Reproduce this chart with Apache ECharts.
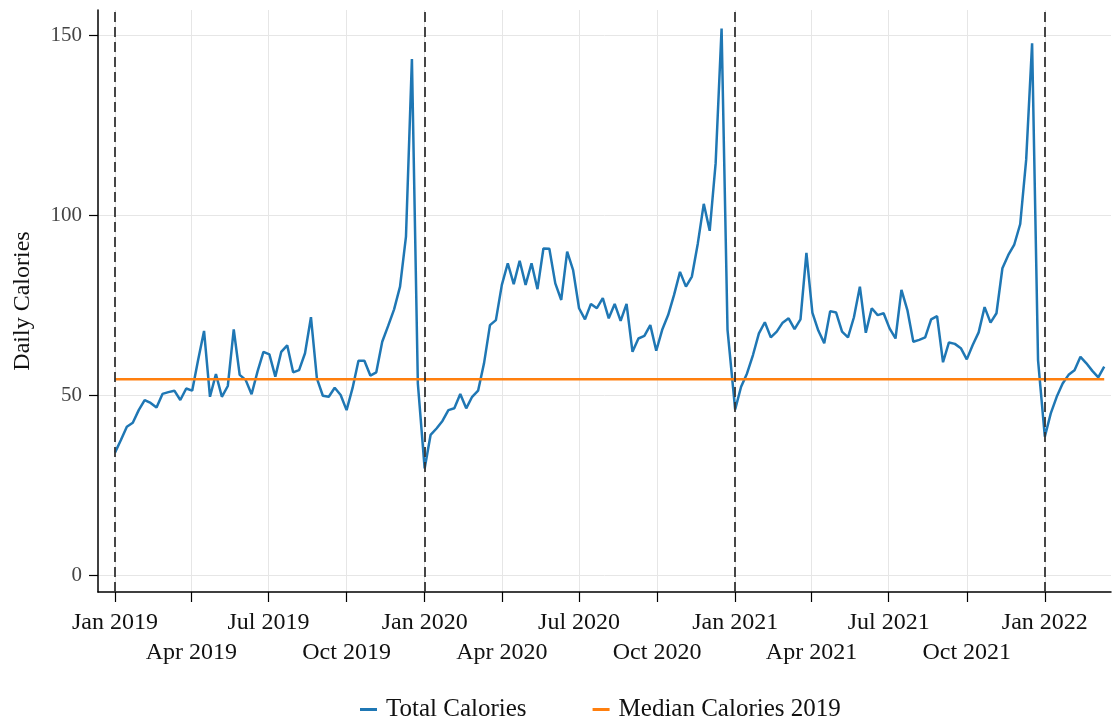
<!DOCTYPE html>
<html><head><meta charset="utf-8">
<script src="https://cdn.jsdelivr.net/npm/echarts@6/dist/echarts.min.js"></script>
<style>html,body{margin:0;padding:0;background:#fff}#chart{width:1113px;height:720px}</style>
</head><body><div id="chart"></div>
<script>
// Weekly values (Stata-style weeks: week 1 starts Jan 1, 52 weeks per year)
const cal2019 = [34.0, 37.5, 41.2, 42.3, 45.8, 48.6, 47.8, 46.5, 50.3, 50.8,
  51.2, 48.6, 51.8, 51.2, 59.7, 67.8, 49.5, 55.8, 49.5, 52.5,
  68.2, 55.6, 54.2, 50.2, 56.5, 62.0, 61.3, 55.1, 62.0, 63.8,
  56.3, 56.9, 61.6, 71.6, 54.6, 49.8, 49.5, 52.0, 50.0, 45.8,
  51.9, 59.5, 59.5, 55.4, 56.3, 64.8, 69.2, 73.8, 80.1, 94.0,
  143.3, 53.2];
const cal2020 = [29.6, 38.9, 40.7, 42.8, 45.8, 46.3, 50.3, 46.3, 49.5, 51.2,
  58.8, 69.4, 70.8, 80.6, 86.6, 80.8, 87.3, 80.6, 86.6, 79.4,
  90.7, 90.6, 81.0, 76.4, 89.8, 84.7, 74.1, 71.0, 75.3, 74.1,
  76.9, 71.3, 75.3, 70.6, 75.3, 62.0, 65.7, 66.4, 69.4, 62.3,
  68.1, 72.2, 77.8, 84.2, 80.1, 82.9, 92.1, 103.1, 95.6, 114.4,
  151.8, 68.1];
const cal2021 = [46.0, 52.3, 56.0, 61.1, 67.1, 70.2, 66.0, 67.6, 70.1, 71.3,
  68.3, 71.0, 89.5, 72.9, 67.9, 64.4, 73.3, 72.9, 67.6, 66.0,
  71.6, 80.1, 67.3, 74.1, 72.2, 72.7, 68.5, 65.7, 79.2, 73.6,
  64.8, 65.3, 66.0, 71.0, 71.9, 59.1, 64.6, 64.2, 63.0, 59.9,
  63.9, 67.4, 74.4, 70.1, 72.7, 85.2, 88.9, 91.8, 97.5, 115.3,
  147.7, 59.7];
const cal2022 = [38.4, 44.9, 49.5, 53.2, 55.6, 56.9, 60.6, 58.8, 56.7, 54.9, 57.9];
const median2019 = 54.4;

const yTicks = [0, 50, 100, 150];
const xTickMonths = ['2019-01','2019-04','2019-07','2019-10','2020-01','2020-04','2020-07',
  '2020-10','2021-01','2021-04','2021-07','2021-10','2022-01'];
const monthNames = ['Jan','Feb','Mar','Apr','May','Jun','Jul','Aug','Sep','Oct','Nov','Dec'];
const breakYears = [2019, 2020, 2021, 2022];

const DAY = 86400000;
function weekDates(year, n) {
  const out = [];
  for (let k = 0; k < n; k++) out.push(Date.UTC(year, 0, 1) + 7 * k * DAY);
  return out;
}
const yearly = [[2019, cal2019], [2020, cal2020], [2021, cal2021], [2022, cal2022]];
const totalData = [];
yearly.forEach(([y, arr]) => {
  const d = weekDates(y, arr.length);
  arr.forEach((v, i) => totalData.push([d[i], v]));
});
const firstDate = totalData[0][0];
const lastDate = totalData[totalData.length - 1][0];
const medianData = [[firstDate, median2019], [lastDate, median2019]];
const xTicks = xTickMonths.map(s => { const p = s.split('-').map(Number); return Date.UTC(p[0], p[1] - 1, 1); });
const row1Ticks = xTicks.filter(t => new Date(t).getUTCMonth() % 6 === 0);   // Jan, Jul
const row2Ticks = xTicks.filter(t => new Date(t).getUTCMonth() % 6 === 3);   // Apr, Oct
const yearStarts = breakYears.map(y => Date.UTC(y, 0, 1));

const FONT = '"Liberation Serif", "Times New Roman", serif';
const xMin = Date.UTC(2019, 0, 1) - 20 * DAY;
const xMax = Date.UTC(2022, 0, 1) + 78 * DAY;
const fmt = v => { const d = new Date(v); return monthNames[d.getUTCMonth()] + ' ' + d.getUTCFullYear(); };

const chart = echarts.init(document.getElementById('chart'), null, {renderer: 'canvas'});
chart.setOption({
  animation: false,
  backgroundColor: '#fff',
  grid: {left: 98, right: 2, top: 10, bottom: 128, containLabel: false, outerBoundsMode: 'none'},
  legend: {
    top: 692, left: 355, icon: 'rect', itemWidth: 17, itemHeight: 3, itemGap: 66,
    textStyle: {fontFamily: FONT, fontSize: 25, color: '#111', padding: [0, 0, 0, 4]},
    data: ['Total Calories', 'Median Calories 2019']
  },
  xAxis: [{
    type: 'value', min: xMin, max: xMax, position: 'bottom',
    axisLine: {onZero: false, lineStyle: {color: '#000', width: 1.5}},
    axisTick: {customValues: xTicks, length: 10, lineStyle: {color: '#000', width: 1.2}},
    axisLabel: {
      customValues: row1Ticks, fontFamily: FONT, fontSize: 24, color: '#111',
      margin: 19, showMinLabel: true, showMaxLabel: true, hideOverlap: false, formatter: fmt
    },
    splitLine: {show: true, lineStyle: {color: '#e6e6e6', width: 1}}
  }, {
    type: 'value', min: xMin, max: xMax, position: 'bottom', offset: 0,
    axisLine: {show: false, onZero: false},
    axisTick: {show: false},
    splitLine: {show: false},
    axisLabel: {
      customValues: row2Ticks, fontFamily: FONT, fontSize: 24, color: '#111',
      margin: 49, showMinLabel: true, showMaxLabel: true, hideOverlap: false, formatter: fmt
    }
  }],
  yAxis: {
    type: 'value', min: -4.72, max: 156.94,
    name: 'Daily Calories', nameLocation: 'middle', nameGap: 63, nameRotate: 90,
    nameTextStyle: {fontFamily: FONT, fontSize: 24, color: '#111'},
    axisLine: {show: true, onZero: false, lineStyle: {color: '#000', width: 1.5}},
    axisTick: {show: true, customValues: yTicks, length: 9, lineStyle: {color: '#000', width: 1.2}},
    axisLabel: {customValues: yTicks, fontFamily: FONT, fontSize: 21, color: '#444', margin: 16,
      showMinLabel: true, showMaxLabel: true},
    splitLine: {show: true, lineStyle: {color: '#e6e6e6', width: 1}}
  },
  series: [
    {
      name: 'Total Calories', type: 'line', xAxisIndex: 0, data: totalData, showSymbol: false, symbol: 'none',
      color: '#1f77b4', lineStyle: {color: '#1f77b4', width: 2.5},
      markLine: {
        silent: true, symbol: 'none', label: {show: false}, z: 10,
        lineStyle: {color: '#333', type: [10, 5], width: 1.8},
        data: yearStarts.map(t => ({xAxis: t}))
      }
    },
    {
      name: 'Median Calories 2019', type: 'line', xAxisIndex: 0, data: medianData, showSymbol: false, symbol: 'none',
      color: '#ff7f0e', lineStyle: {color: '#ff7f0e', width: 2.5}
    }
  ]
});
</script></body></html>
